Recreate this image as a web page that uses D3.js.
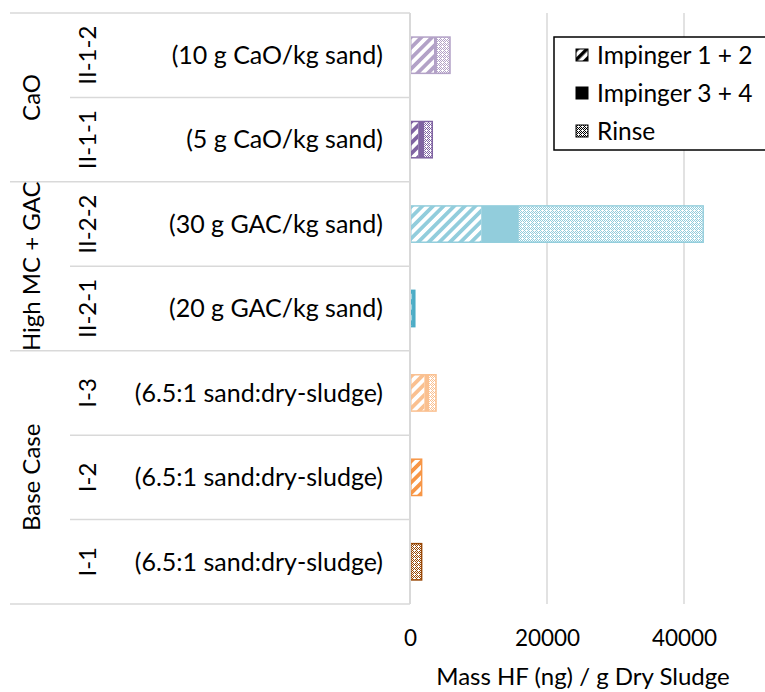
<!DOCTYPE html>
<html>
<head>
<meta charset="utf-8">
<script src="https://cdn.jsdelivr.net/npm/d3@7"></script>
<style>
  html, body { margin: 0; padding: 0; background: #fff; }
  svg { display: block; font-family: Lato, "Open Sans", sans-serif; }
</style>
</head>
<body>
<svg id="chart" width="765" height="692"></svg>
<script>
// ---- data (top to bottom) ----
const categories   = ["II-1-2", "II-1-1", "II-2-2", "II-2-1", "I-3", "I-2", "I-1"];
const descriptions = ["(10 g CaO/kg sand)", "(5 g CaO/kg sand)", "(30 g GAC/kg sand)", "(20 g GAC/kg sand)",
                      "(6.5:1 sand:dry-sludge)", "(6.5:1 sand:dry-sludge)", "(6.5:1 sand:dry-sludge)"];
const groupNames   = ["CaO", "High MC + GAC", "Base Case"];
const groupOf      = ["CaO", "CaO", "High MC + GAC", "High MC + GAC", "Base Case", "Base Case", "Base Case"];
const impinger12   = [3500, 1200, 10400, 300, 2100, 1700, 0];
const impinger34   = [440, 880, 5500, 400, 700, 0, 0];
const rinse        = [1900, 1170, 26900, 0, 1000, 0, 1700];
const barColors    = ["#b3a2c7", "#8064a2", "#92cddc", "#4bacc6", "#fac090", "#f79646", "#984807"];
const xTicks       = [0, 20000, 40000];
const seriesNames  = ["Impinger 1 + 2", "Impinger 3 + 4", "Rinse"];
const xTitle       = "Mass HF (ng) / g Dry Sludge";

const svg = d3.select("#chart");
const defs = svg.append("defs");

const x = d3.scaleLinear().domain([0, 40000]).range([410, 684]);
const rows = d3.scaleBand().domain(categories).range([13, 604]).padding(0);
const bars = d3.scaleBand().domain(categories).range([13, 604]).paddingInner(0.57).paddingOuter(0.285);

const gridColor = "#d9d9d9";
const labelSize = 24;

// patterns
function hatchPattern(id, color, size) {
  const p = defs.append("pattern").attr("id", id).attr("patternUnits", "userSpaceOnUse")
    .attr("width", size).attr("height", size).attr("patternTransform", "rotate(45)");
  p.append("rect").attr("width", size).attr("height", size).attr("fill", "#fff");
  p.append("rect").attr("width", size / 2).attr("height", size).attr("fill", color);
}
function rinsePattern(id, color) {
  const p = defs.append("pattern").attr("id", id).attr("patternUnits", "userSpaceOnUse")
    .attr("width", 4).attr("height", 4);
  p.append("rect").attr("width", 4).attr("height", 4).attr("fill", "#fff");
  [[0,0],[2,0],[1,1],[3,1],[0,2],[3,3],[1,3]].forEach(([a, b]) =>
    p.append("rect").attr("x", a).attr("y", b).attr("width", 1).attr("height", 1).attr("fill", color));
}
barColors.forEach((c, i) => { hatchPattern("h" + i, c, 7.5); rinsePattern("r" + i, c); });
hatchPattern("hL", "#000", 7);
rinsePattern("rL", "#000");

// gridlines
const grid = svg.append("g");
grid.selectAll("line").data(xTicks.slice(1)).join("line")
  .attr("x1", d => x(d)).attr("x2", d => x(d)).attr("y1", 13).attr("y2", 604)
  .attr("stroke", gridColor).attr("stroke-width", 1.5);

// bars
const barG = svg.append("g");
categories.forEach((c, i) => {
  const segs = [
    { v0: 0, v1: impinger12[i], fill: `url(#h${i})` },
    { v0: impinger12[i], v1: impinger12[i] + impinger34[i], fill: barColors[i] },
    { v0: impinger12[i] + impinger34[i], v1: impinger12[i] + impinger34[i] + rinse[i], fill: `url(#r${i})` }
  ].filter(s => s.v1 > s.v0);
  barG.selectAll(null).data(segs).join("rect")
    .attr("x", s => x(s.v0)).attr("width", s => x(s.v1) - x(s.v0))
    .attr("y", bars(c)).attr("height", bars.bandwidth())
    .attr("fill", s => s.fill);
  const total = impinger12[i] + impinger34[i] + rinse[i];
  barG.append("rect")
    .attr("x", x(0) + 0.75).attr("width", x(total) - x(0) - 0.75)
    .attr("y", bars(c)).attr("height", bars.bandwidth())
    .attr("fill", "none").attr("stroke", barColors[i]).attr("stroke-width", 1.5);
});

// left table lines
const tbl = svg.append("g").attr("stroke", gridColor).attr("stroke-width", 1.5);
const boundaries = categories.map(c => rows(c)).concat([rows.range()[1]]);
boundaries.forEach((yv, k) => {
  const isGroupEdge = k === 0 || k === boundaries.length - 1 || groupOf[k] !== groupOf[k - 1];
  tbl.append("line").attr("x1", isGroupEdge ? 10 : 70).attr("x2", 410).attr("y1", yv).attr("y2", yv);
});
// value axis line
svg.append("line").attr("x1", x(0)).attr("x2", x(0)).attr("y1", 13).attr("y2", 604)
  .attr("stroke", gridColor).attr("stroke-width", 2);

// category labels
const lab = svg.append("g").attr("font-size", labelSize).attr("fill", "#000");
categories.forEach((c, i) => {
  const cy = rows(c) + rows.bandwidth() / 2;
  lab.append("text").attr("x", 383).attr("y", cy).attr("dy", "0.35em")
    .attr("font-size", 25).attr("text-anchor", "end").text(descriptions[i]);
  lab.append("text").attr("transform", `translate(88,${cy}) rotate(-90)`)
    .attr("dy", "0.35em").attr("text-anchor", "middle").text(c);
});
groupNames.forEach(g => {
  const idx = categories.map((c, i) => i).filter(i => groupOf[i] === g);
  const y0 = rows(categories[idx[0]]);
  const y1 = rows(categories[idx[idx.length - 1]]) + rows.bandwidth();
  lab.append("text").attr("transform", `translate(32,${(y0 + y1) / 2}) rotate(-90)`)
    .attr("dy", "0.35em").attr("text-anchor", "middle").text(g);
});

// x axis ticks
const xAxis = svg.append("g").attr("transform", "translate(0,604)")
  .call(d3.axisBottom(x).tickValues(xTicks).tickSize(0).tickPadding(26).tickFormat(d3.format("d")));
xAxis.select(".domain").remove();
xAxis.selectAll("text").attr("font-size", 22.5).attr("fill", "#000").attr("font-family", "Lato, 'Open Sans', sans-serif");

svg.append("text").attr("x", 583).attr("y", 685).attr("text-anchor", "middle")
  .attr("font-size", labelSize).attr("fill", "#000").text(xTitle);

// legend
const leg = svg.append("g");
leg.append("rect").attr("x", 554).attr("y", 37).attr("width", 220).attr("height", 113)
  .attr("fill", "#fff").attr("stroke", "#000").attr("stroke-width", 1.5);
const legFills = ["url(#hL)", "#000", "url(#rL)"];
seriesNames.forEach((s, k) => {
  const cy = 55 + k * 38;
  leg.append("rect").attr("x", 576).attr("y", cy - 6).attr("width", 12).attr("height", 12)
    .attr("fill", legFills[k]).attr("stroke", "#000").attr("stroke-width", 1);
  leg.append("text").attr("x", 597).attr("y", cy).attr("dy", "0.35em")
    .attr("font-size", 24.5).attr("fill", "#000").text(s);
});
</script>
</body>
</html>
